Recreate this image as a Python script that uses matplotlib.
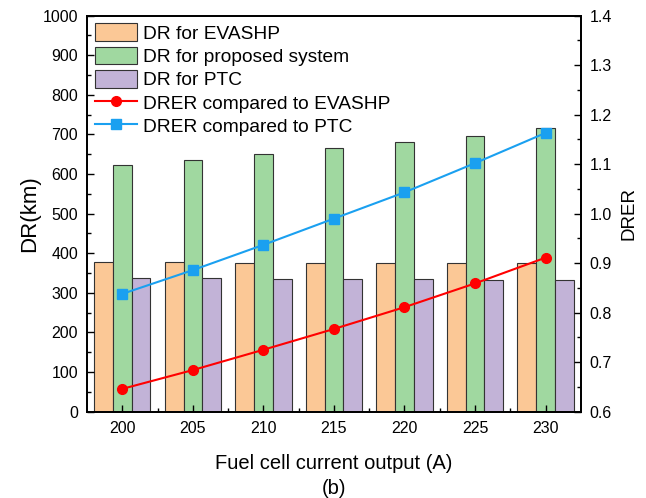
import matplotlib.pyplot as plt
from matplotlib.ticker import MultipleLocator
import numpy as np

plt.rcParams['font.family'] = ['Liberation Sans', 'DejaVu Sans']
plt.rcParams['font.size'] = 12

currents = ["200", "205", "210", "215", "220", "225", "230"]
dr_evashp = [377, 377, 376, 376, 375, 375, 375]
dr_proposed = [623, 636, 651, 666, 681, 697, 716]
dr_ptc = [338, 337, 336, 335, 334, 333, 332]
drer_evashp = [0.646, 0.684, 0.725, 0.767, 0.811, 0.859, 0.911]
drer_ptc = [0.838, 0.886, 0.937, 0.990, 1.043, 1.102, 1.163]

x = np.arange(len(currents))
w = 0.265

fig = plt.figure(figsize=(6.46, 4.98), dpi=100)
ax = fig.add_axes([0.135, 0.1735, 0.764, 0.795])

edge = dict(edgecolor="#333333", linewidth=0.8)
b1 = ax.bar(x - w, dr_evashp, w, color="#FBC896", label="DR for EVASHP", **edge)
b2 = ax.bar(x, dr_proposed, w, color="#A0D8A0", label="DR for proposed system", **edge)
b3 = ax.bar(x + w, dr_ptc, w, color="#C2B3D7", label="DR for PTC", **edge)

ax.set_xlim(-0.5, 6.5)
ax.set_ylim(0, 1000)
ax.set_xticks(x)
ax.set_xticklabels(currents)
ax.set_xticks(x[:-1] + 0.5, minor=True)
ax.yaxis.set_major_locator(MultipleLocator(100))
ax.yaxis.set_minor_locator(MultipleLocator(50))
ax.set_ylabel("DR(km)", fontsize=16, labelpad=2)
ax.set_xlabel("Fuel cell current output (A)\n(b)", fontsize=14.5,
              linespacing=1.4, labelpad=13)

ax2 = ax.twinx()
l1, = ax2.plot(x, drer_evashp, "-o", color="#FF0000", lw=1.5, ms=7,
               label="DRER compared to EVASHP")
l2, = ax2.plot(x, drer_ptc, "-s", color="#1AA0F0", lw=1.5, ms=6.5,
               label="DRER compared to PTC")
ax2.set_ylim(0.6, 1.4)
ax2.yaxis.set_major_locator(MultipleLocator(0.1))
ax2.yaxis.set_minor_locator(MultipleLocator(0.05))
ax2.set_ylabel("DRER", fontsize=13.5, labelpad=6)

for a in (ax, ax2):
    a.tick_params(which="both", direction="in", labelsize=11.5, pad=6.5)
    a.tick_params(which="major", length=5, width=1)
    a.tick_params(which="minor", length=3, width=1)
    for s in a.spines.values():
        s.set_linewidth(1.3)
ax.tick_params(axis="y", right=False)
ax.tick_params(axis="x", top=False)
ax2.tick_params(axis="y", left=False)

ax2.legend([b1, b2, b3, l1, l2], [h.get_label() for h in (b1, b2, b3, l1, l2)],
           loc="upper left", frameon=False, fontsize=13.8,
           handlelength=2.2, handleheight=1.05, labelspacing=0.2,
           handletextpad=0.31, borderpad=0.2, borderaxespad=0.2)

fig.savefig("out.png", dpi=100)
